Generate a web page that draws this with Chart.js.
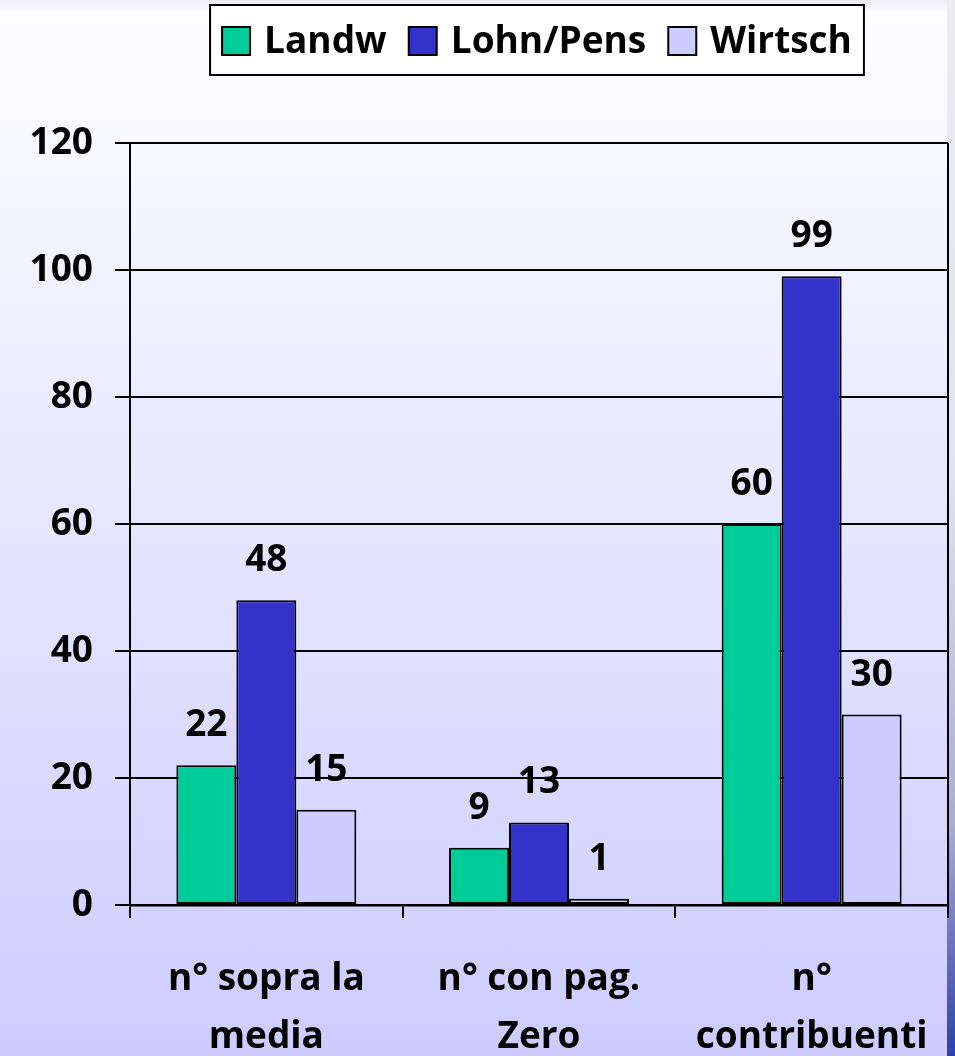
<!DOCTYPE html>
<html>
<head>
<meta charset="utf-8">
<script src="https://cdn.jsdelivr.net/npm/chart.js@4.4.0/dist/chart.umd.min.js"></script>
<style>
  html, body { margin: 0; padding: 0; }
  body {
    width: 955px; height: 1056px; overflow: hidden; position: relative;
    background: linear-gradient(to bottom, #ececf2 0px, #fdfdff 12px, #fbfbff 80px, #ccccff 1056px);
  }
  #strip {
    position: absolute; right: 0; top: 0; width: 8px; height: 1056px;
    background: linear-gradient(to bottom, #ececf0 0%, #e2e2ee 45%, #a8acd6 78%, #3040a6 100%);
  }
  #wrap { position: absolute; left: 0; top: 0; width: 955px; height: 1056px; }
</style>
</head>
<body>
<div id="strip"></div>
<div id="wrap"><canvas id="chart" width="955" height="1056"></canvas></div>
<script>
// data
const categories = [['n° sopra la', 'media'], ['n° con pag.', 'Zero'], ['n°', 'contribuenti']];
const seriesNames = ['Landw', 'Lohn/Pens', 'Wirtsch'];
const landw = [22, 9, 60];
const lohnPens = [48, 13, 99];
const wirtsch = [15, 1, 30];
const yMin = 0, yMax = 120, yStep = 20;

const seriesColors = ['#00cc99', '#3333cc', '#ccccff'];
const FONT = '"Open Sans"';
const boldFont = { family: FONT, size: 37, weight: 'bold', lineHeight: 1.55 };

// value labels above each bar
const barLabels = {
  id: 'barLabels',
  afterDatasetsDraw(chart) {
    const ctx = chart.ctx;
    ctx.save();
    ctx.font = 'bold 37px ' + FONT;
    ctx.fillStyle = '#000';
    ctx.textAlign = 'center';
    ctx.textBaseline = 'alphabetic';
    chart.data.datasets.forEach((ds, i) => {
      chart.getDatasetMeta(i).data.forEach((bar, j) => {
        ctx.fillText(String(ds.data[j]), bar.x, bar.y - 29);
      });
    });
    ctx.restore();
  }
};

// right edge of the plot frame
const plotFrame = {
  id: 'plotFrame',
  afterDraw(chart) {
    const { ctx, chartArea } = chart;
    ctx.save();
    ctx.strokeStyle = '#000';
    ctx.lineWidth = 2;
    ctx.beginPath();
    ctx.moveTo(chartArea.right, chartArea.top);
    ctx.lineTo(chartArea.right, chartArea.bottom + 13);
    ctx.stroke();
    ctx.restore();
  }
};

// boxed legend on top
const boxLegend = {
  id: 'boxLegend',
  afterDraw(chart) {
    const { ctx, chartArea } = chart;
    const box = 28, gapText = 14, gapItem = 22, pad = 12;
    ctx.save();
    ctx.font = 'bold 37px ' + FONT;
    const items = chart.data.datasets.map(ds => ({ label: ds.label, color: ds.backgroundColor, w: ctx.measureText(ds.label).width }));
    let total = pad * 2;
    items.forEach((it, i) => { total += box + gapText + it.w + (i < items.length - 1 ? gapItem : 0); });
    const cx = (chartArea.left + chartArea.right) / 2 - 2;
    const left = cx - total / 2, top = 5, h = 70;
    ctx.fillStyle = '#fff';
    ctx.fillRect(left, top, total, h);
    ctx.strokeStyle = '#000';
    ctx.lineWidth = 2;
    ctx.strokeRect(left, top, total, h);
    let x = left + pad;
    const midY = top + h / 2 + 1;
    items.forEach(it => {
      ctx.fillStyle = it.color;
      ctx.fillRect(x, midY - box / 2, box, box);
      ctx.strokeRect(x, midY - box / 2, box, box);
      x += box + gapText;
      ctx.fillStyle = '#000';
      ctx.textBaseline = 'middle';
      ctx.textAlign = 'left';
      ctx.fillText(it.label, x, midY + 1);
      x += it.w + gapItem;
    });
    ctx.restore();
  }
};

const seriesData = [landw, lohnPens, wirtsch];

new Chart(document.getElementById('chart'), {
  type: 'bar',
  data: {
    labels: categories,
    datasets: seriesNames.map((name, i) => ({
      label: name,
      data: seriesData[i],
      backgroundColor: seriesColors[i],
      borderColor: '#000',
      borderWidth: 2,
      borderSkipped: false,
      categoryPercentage: 0.66,
      barPercentage: 1
    }))
  },
  options: {
    responsive: false,
    animation: false,
    layout: { padding: { top: 143, right: 7, left: 0, bottom: 0 } },
    plugins: { legend: { display: false }, tooltip: { enabled: false } },
    scales: {
      x: {
        grid: { drawOnChartArea: false, drawTicks: true, tickLength: 13, color: '#000', lineWidth: 2, offset: true },
        border: { color: '#000', width: 2.5 },
        ticks: { font: boldFont, color: '#000', padding: 33, maxRotation: 0, autoSkip: false },
        afterFit(s) { s.height = 151; s.paddingLeft = 0; s.paddingRight = 0; }
      },
      y: {
        min: yMin, max: yMax,
        ticks: { stepSize: yStep, font: boldFont, color: '#000', padding: 22 },
        grid: { color: '#000', lineWidth: 2, tickLength: 15 },
        border: { color: '#000', width: 2 },
        afterFit(s) { s.width = 130; }
      }
    }
  },
  plugins: [barLabels, plotFrame, boxLegend]
});
</script>
</body>
</html>
